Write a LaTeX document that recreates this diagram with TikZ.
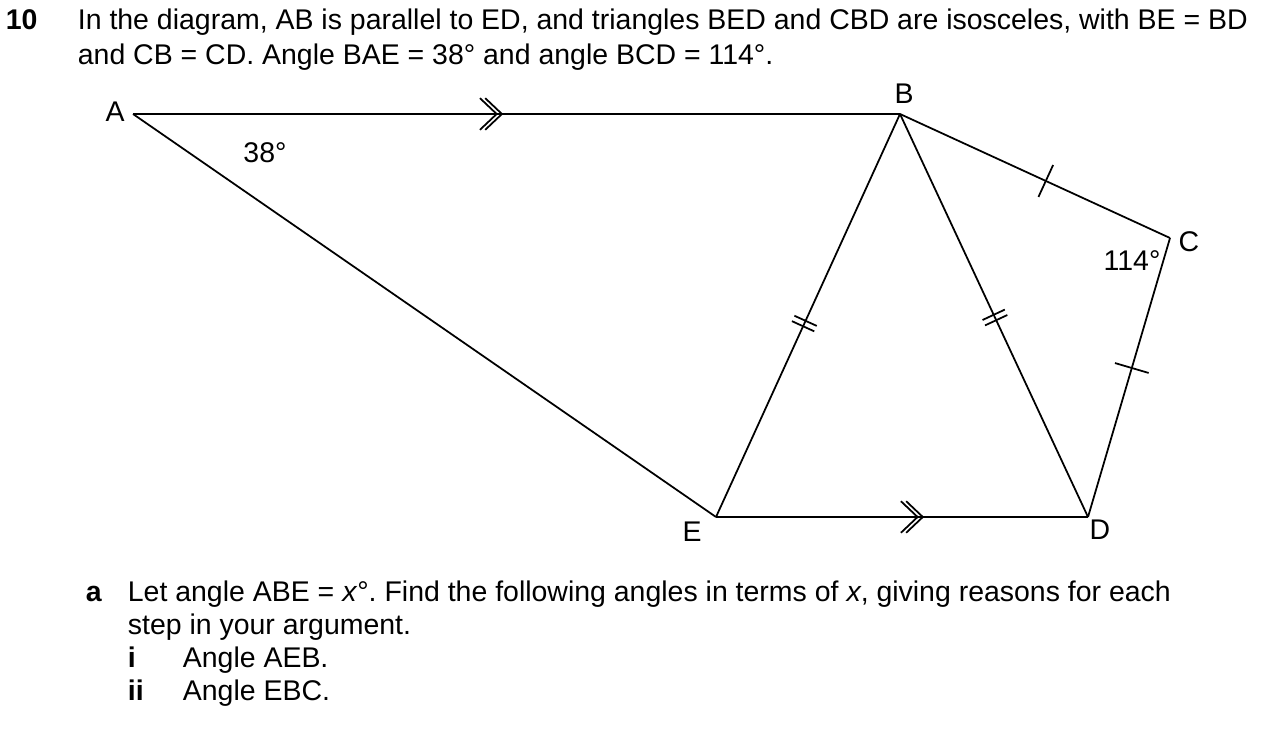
\documentclass[tikz,border=0pt]{standalone}
\usepackage{fontspec}
\setmainfont{Liberation Sans}
\frenchspacing
\usetikzlibrary{decorations.markings}
\tikzset{
  parmark/.style={postaction={decorate,decoration={markings,
    mark=at position #1 with {\draw (-9.5pt,9pt) -- (0,0) -- (-9.5pt,-9pt) (-12.5pt,9pt) -- (-3pt,0) -- (-12.5pt,-9pt);}}}},
  onetick/.style={postaction={decorate,decoration={markings,
    mark=at position #1 with {\draw (0,-10pt) -- (0,10pt);}}}},
  twotick/.style={postaction={decorate,decoration={markings,
    mark=at position #1 with {\draw (-1.7pt,-7pt) -- (-1.7pt,7pt) (1.7pt,-7pt) -- (1.7pt,7pt);}}}},
  lbl/.style={font=\fontsize{16.2}{19}\selectfont, inner sep=0pt},
  txt/.style={anchor=base west, font=\fontsize{16.2}{19}\selectfont, inner sep=0pt}
}
\begin{document}
\begin{tikzpicture}[x=0.02cm, y=-0.02cm, line width=1pt]
  \useasboundingbox (0,0) rectangle (1270,732);
  % question text
  \node[txt] (num) at (5,30) {\bfseries 10};
  \node[txt] (q1) at (77,30) {In the diagram, AB is parallel to ED, and triangles BED and CBD are isosceles, with BE = BD};
  \node[txt] (q2) at (77,65) {and CB = CD. Angle BAE = 38° and angle BCD = 114°.};
  % the figure
  \coordinate (A) at (133,114);
  \coordinate (B) at (900,114);
  \coordinate (C) at (1170,238);
  \coordinate (D) at (1088,517);
  \coordinate (E) at (716,517);
  \draw[parmark=0.481] (A) -- (B);
  \draw (A) -- (E);
  \draw[parmark=0.556] (E) -- (D);
  \draw[twotick=0.52] (B) -- (E);
  \draw[twotick=0.505] (B) -- (D);
  \draw[onetick=0.54] (B) -- (C);
  \draw[onetick=0.466] (C) -- (D);
  \node[lbl] (lA) at (115,112) {A};
  \node[lbl] (lB) at (904,94) {B};
  \node[lbl] (lC) at (1189,242) {C};
  \node[lbl] (lD) at (1100,530) {D};
  \node[lbl] (lE) at (692,532) {E};
  \node[lbl] (angA) at (265,153) {38°};
  \node[lbl] (angC) at (1132,261) {114°};
  % part a
  \node[txt] (pa) at (85,601) {\bfseries a};
  \node[txt] (a1) at (127,601) {Let angle ABE = \textit{x}°. Find the following angles in terms of \textit{x}, giving reasons for each};
  \node[txt] (a2) at (127,634) {step in your argument.};
  \node[txt] (pi) at (127,667) {\bfseries i};
  \node[txt] (ai) at (182,667) {Angle AEB.};
  \node[txt] (pii) at (127,700) {\bfseries ii};
  \node[txt] (aii) at (182,700) {Angle EBC.};
\end{tikzpicture}
\end{document}
